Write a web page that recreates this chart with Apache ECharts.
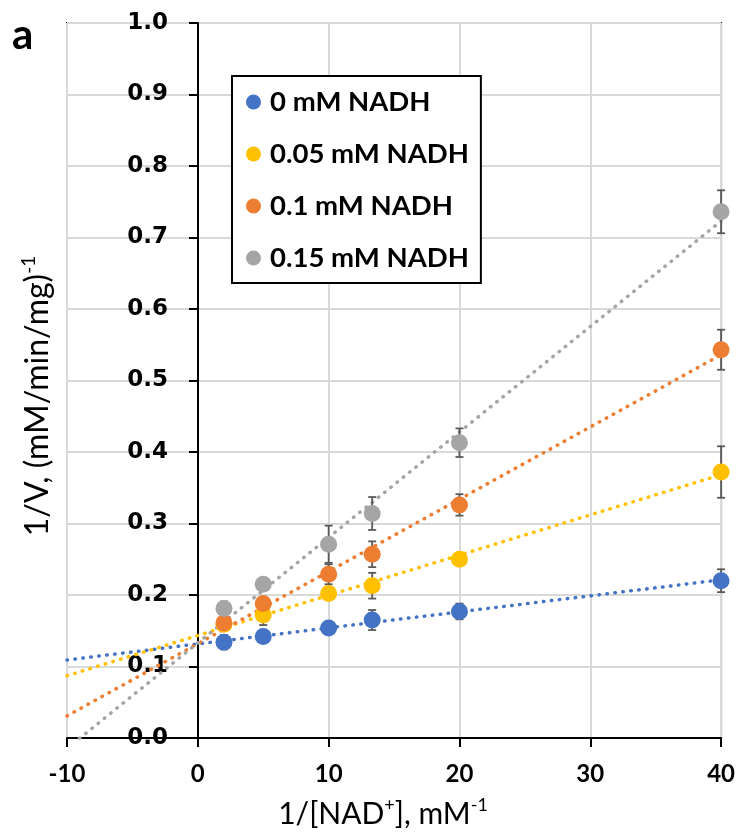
<!DOCTYPE html>
<html>
<head>
<meta charset="utf-8">
<script src="https://cdn.jsdelivr.net/npm/echarts@6/dist/echarts.min.js"></script>
<style>
html,body{margin:0;padding:0;background:#fff;}
#chart{width:738px;height:837px;}
</style>
</head>
<body>
<div id="chart"></div>
<script>
// ---- data ----
const xValues = [2, 5, 10, 13.33, 20, 40];
const seriesNames = ['0 mM NADH', '0.05 mM NADH', '0.1 mM NADH', '0.15 mM NADH'];
const nadh0   = [0.134, 0.142, 0.154, 0.165, 0.177, 0.220];
const nadh005 = [0.159, 0.172, 0.202, 0.213, 0.250, 0.372];
const nadh01  = [0.161, 0.188, 0.229, 0.257, 0.326, 0.543];
const nadh015 = [0.181, 0.215, 0.271, 0.314, 0.413, 0.736];
const err0    = [0.010, 0.006, 0.005, 0.014, 0.011, 0.016];
const err005  = [0.008, 0.014, 0.006, 0.018, 0.008, 0.036];
const err01   = [0.010, 0.008, 0.014, 0.018, 0.015, 0.028];
const err015  = [0.010, 0.006, 0.026, 0.023, 0.020, 0.030];
const trendRange = [-10, 40];
const xTickMin = -10, xTickMax = 40, xTickStep = 10;
const yTickMin = 0, yTickMax = 1, yTickStep = 0.1;

const colors = ['#4472C4', '#FFC000', '#ED7D31', '#A5A5A5'];
const values = [nadh0, nadh005, nadh01, nadh015];
const errors = [err0, err005, err01, err015];

const W = 738, H = 837;
const gridL = 67, gridR = 16, gridT = 23, gridB = 99;
const plotW = W - gridL - gridR;
// y axis sits at x = 0 of the x scale
const yAxisOffset = -plotW * (0 - xTickMin) / (xTickMax - xTickMin);

function linFit(xs, ys) {
  const n = xs.length;
  const mx = xs.reduce((a, b) => a + b, 0) / n;
  const my = ys.reduce((a, b) => a + b, 0) / n;
  let sxy = 0, sxx = 0;
  for (let i = 0; i < n; i++) { sxy += (xs[i] - mx) * (ys[i] - my); sxx += (xs[i] - mx) ** 2; }
  const b = sxy / sxx;
  return { a: my - b * mx, b: b };
}

const series = [];
values.forEach((ys, i) => {
  const f = linFit(xValues, ys);
  series.push({
    name: 'trend ' + seriesNames[i],
    type: 'line',
    data: trendRange.map(x => [x, f.a + f.b * x]),
    symbol: 'none',
    silent: true,
    clip: true,
    z: 2,
    lineStyle: { color: colors[i], width: 3.5, type: [0.5, 7.5], cap: 'round' }
  });
});
values.forEach((ys, i) => {
  series.push({
    name: 'err ' + seriesNames[i],
    type: 'custom',
    z: 3,
    silent: true,
    data: xValues.map((x, k) => [x, ys[k], errors[i][k]]),
    encode: { x: 0, y: 1 },
    renderItem: function (params, api) {
      const x = api.value(0), y = api.value(1), e = api.value(2);
      const top = api.coord([x, y + e]);
      const bot = api.coord([x, y - e]);
      const hw = 4;
      const st = { stroke: '#595959', lineWidth: 1.8 };
      return {
        type: 'group',
        children: [
          { type: 'line', shape: { x1: top[0], y1: top[1], x2: bot[0], y2: bot[1] }, style: st },
          { type: 'line', shape: { x1: top[0] - hw, y1: top[1], x2: top[0] + hw, y2: top[1] }, style: st },
          { type: 'line', shape: { x1: bot[0] - hw, y1: bot[1], x2: bot[0] + hw, y2: bot[1] }, style: st }
        ]
      };
    }
  });
});
values.forEach((ys, i) => {
  series.push({
    name: seriesNames[i],
    type: 'scatter',
    z: 4,
    symbol: 'circle',
    symbolSize: 17,
    itemStyle: { color: colors[i], opacity: 1 },
    data: xValues.map((x, k) => [x, ys[k]])
  });
});

const chart = echarts.init(document.getElementById('chart'), null, { renderer: 'canvas' });
chart.setOption({
  animation: false,
  backgroundColor: '#fff',
  grid: { left: gridL, right: gridR, top: gridT, bottom: gridB, show: true, borderColor: '#000', borderWidth: 2, backgroundColor: 'transparent' },
  xAxis: {
    type: 'value', min: xTickMin, max: xTickMax, interval: xTickStep,
    axisLine: { show: true, onZero: false, lineStyle: { color: '#000', width: 2 } },
    axisTick: { show: true, length: 9, lineStyle: { color: '#000', width: 2 } },
    axisLabel: { margin: 24, color: '#000', fontFamily: 'Lato', fontWeight: 'bold', fontSize: 24 },
    splitLine: { show: true, lineStyle: { color: '#d9d9d9', width: 2 } }
  },
  yAxis: {
    type: 'value', min: yTickMin, max: yTickMax, interval: yTickStep,
    offset: yAxisOffset,
    axisLine: { show: true, onZero: false, lineStyle: { color: '#000', width: 2 } },
    axisTick: { show: true, length: 9, lineStyle: { color: '#000', width: 2 } },
    axisLabel: { margin: 30, color: '#000', fontFamily: 'DejaVu Sans', fontWeight: 'bold', fontSize: 23,
      formatter: v => v.toFixed(1) },
    splitLine: { show: true, lineStyle: { color: '#d9d9d9', width: 2 } }
  },
  legend: {
    data: seriesNames,
    orient: 'vertical',
    left: 232, top: 76,
    padding: [11, 12, 10, 14],
    itemWidth: 15, itemHeight: 15, itemGap: 22,
    icon: 'circle',
    backgroundColor: '#fff',
    borderColor: '#000', borderWidth: 2,
    textStyle: { color: '#000', fontFamily: 'Lato', fontWeight: 'bold', fontSize: 27.5, lineHeight: 30, padding: [0, 0, 0, 4] }
  },
  graphic: [
    { type: 'text', left: 12, top: 14, style: { text: 'a', fill: '#000', font: 'bold 42px Lato' } },
    { type: 'text', x: 383, y: 814, style: {
        text: '1/[NAD{sup|+}], mM{sup|-1}', fill: '#000', align: 'center', verticalAlign: 'middle',
        font: '30px Lato', lineHeight: 36,
        rich: { sup: { fontSize: 18, lineHeight: 16, verticalAlign: 'top', fontFamily: 'Lato', fill: '#000' } }
      } },
    { type: 'text', x: 38, y: 396, rotation: Math.PI / 2, style: {
        text: '1/V, (mM/min/mg){sup|-1}', fill: '#000', align: 'center', verticalAlign: 'middle',
        font: '32px Lato', lineHeight: 38,
        rich: { sup: { fontSize: 19, lineHeight: 16, verticalAlign: 'top', fontFamily: 'Lato', fill: '#000' } }
      } }
  ],
  series: series
});
</script>
</body>
</html>
